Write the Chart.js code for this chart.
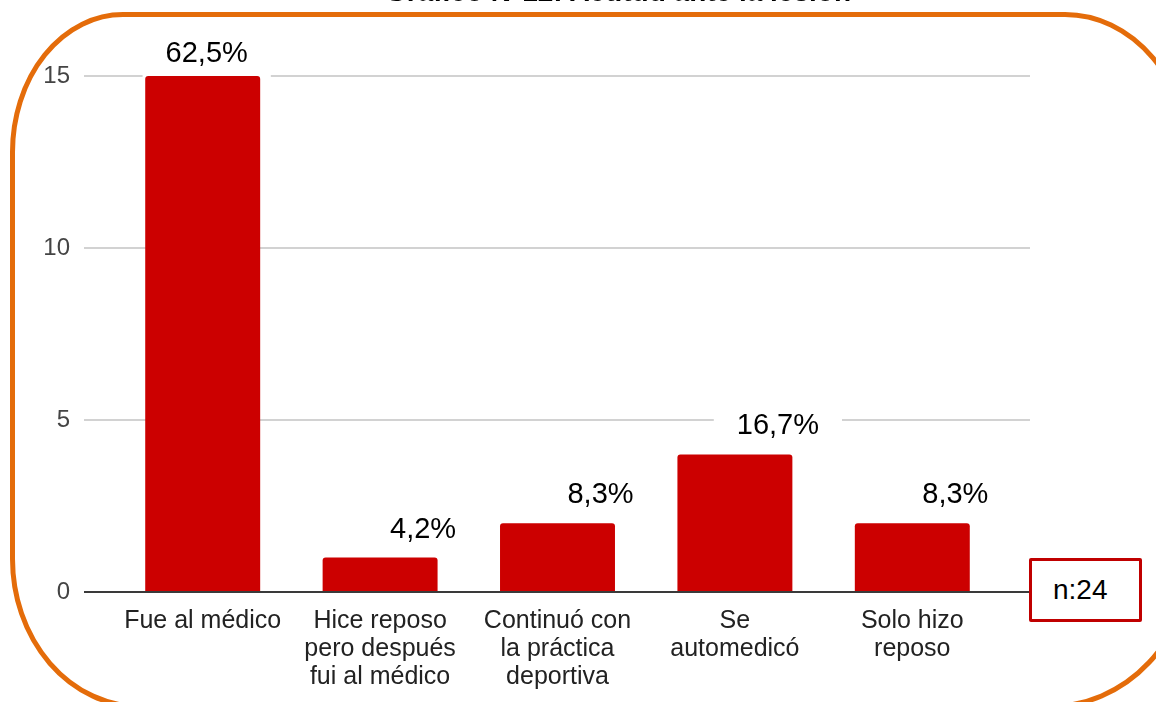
<!DOCTYPE html>
<html lang="es">
<head>
<meta charset="utf-8">
<title>Actitud ante la lesión</title>
<script src="https://cdn.jsdelivr.net/npm/chart.js@4"></script>
<style>
    html, body { margin: 0; padding: 0; background: #fff; overflow: hidden; }
    #wrap { position: relative; width: 1156px; height: 702px; overflow: hidden; font-family: "Liberation Sans", Arial, sans-serif; }
    #title {
        position: absolute; left: 0; top: -22px; width: 1236px; text-align: center;
        font-weight: bold; font-size: 28px; line-height: 28px; color: #000; white-space: nowrap;
    }
    #chart { position: absolute; left: 0; top: 0; }
    #nbox {
        position: absolute; left: 1029px; top: 558px; width: 113px; height: 64px;
        box-sizing: border-box; border: 3px solid #c00000; border-radius: 2px; background: #fff;
        font-size: 28px; line-height: 58px; padding-left: 21px; color: #000;
    }
</style>
</head>
<body>
<div id="wrap">
    <canvas id="chart" width="1156" height="702"></canvas>
    <div id="title">Gráfico N°12: Actitud ante la lesión</div>
    <div id="nbox">n:24</div>
</div>
<script>
// Respuestas por categoría
const categories = [
    ['Fue al médico'],
    ['Hice reposo', 'pero después', 'fui al médico'],
    ['Continuó con', 'la práctica', 'deportiva'],
    ['Se', 'automedicó'],
    ['Solo hizo', 'reposo']
];
const counts = [15, 1, 2, 4, 2];
const yTicks = [0, 5, 10, 15];

const total = counts.reduce((a, b) => a + b, 0);
const pctLabels = counts.map(v => (v / total * 100).toFixed(1).replace('.', ',') + '%');

const FONT = '"Liberation Sans", Arial, sans-serif';

// where each percentage label sits relative to its bar
function labelPos(bar, i) {
    return {
        x: bar.x + (i === 0 ? 4 : 43),
        y: Math.max(bar.y - 29, 53)
    };
}

// Orange rounded frame around the whole figure (runs off the right and bottom edges)
const frame = {
    id: 'frame',
    beforeDraw(chart) {
        const ctx = chart.ctx;
        const L = 12.5, T = 14.5, R = 1190, B = 706.5;
        const tl = [110.5, 137.5], tr = [125, 150], br = [140, 150], bl = [127.5, 147.5];
        ctx.save();
        ctx.strokeStyle = '#e46c0a';
        ctx.lineWidth = 5;
        ctx.beginPath();
        ctx.moveTo(L + tl[0], T);
        ctx.lineTo(R - tr[0], T);
        ctx.ellipse(R - tr[0], T + tr[1], tr[0], tr[1], 0, -Math.PI / 2, 0);
        ctx.lineTo(R, B - br[1]);
        ctx.ellipse(R - br[0], B - br[1], br[0], br[1], 0, 0, Math.PI / 2);
        ctx.lineTo(L + bl[0], B);
        ctx.ellipse(L + bl[0], B - bl[1], bl[0], bl[1], 0, Math.PI / 2, Math.PI);
        ctx.lineTo(L, T + tl[1]);
        ctx.ellipse(L + tl[0], T + tl[1], tl[0], tl[1], 0, Math.PI, Math.PI * 1.5);
        ctx.closePath();
        ctx.stroke();
        ctx.restore();
    }
};

// Horizontal guide lines (wider than the category band) and label plates
const guides = {
    id: 'guides',
    beforeDatasetsDraw(chart) {
        const ctx = chart.ctx;
        const y = chart.scales.y;
        ctx.save();
        ctx.strokeStyle = '#d2d2d2';
        ctx.lineWidth = 2;
        yTicks.forEach(t => {
            if (t === 0) return;
            const py = Math.round(y.getPixelForValue(t));
            ctx.beginPath();
            ctx.moveTo(84, py);
            ctx.lineTo(1030, py);
            ctx.stroke();
        });

        ctx.font = '29px ' + FONT;
        ctx.fillStyle = '#fff';
        chart.getDatasetMeta(0).data.forEach((bar, i) => {
            const p = labelPos(bar, i);
            const w = ctx.measureText(pctLabels[i]).width + 46;
            ctx.fillRect(p.x - w / 2, p.y - 18, w, 42);
        });
        ctx.restore();
    },
    afterDatasetsDraw(chart) {
        const ctx = chart.ctx;
        const y = chart.scales.y;
        const py = Math.round(y.getPixelForValue(0));
        ctx.save();
        ctx.strokeStyle = '#3a3a3a';
        ctx.lineWidth = 2;
        ctx.beginPath();
        ctx.moveTo(84, py);
        ctx.lineTo(1030, py);
        ctx.stroke();

        ctx.font = '29px ' + FONT;
        ctx.textAlign = 'center';
        ctx.textBaseline = 'middle';
        ctx.fillStyle = '#000';
        chart.getDatasetMeta(0).data.forEach((bar, i) => {
            const p = labelPos(bar, i);
            ctx.fillText(pctLabels[i], p.x, p.y + 1);
        });
        ctx.restore();
    }
};

new Chart(document.getElementById('chart'), {
    type: 'bar',
    data: {
        labels: categories,
        datasets: [{
            data: counts,
            backgroundColor: '#cc0000',
            barPercentage: 0.648,
            categoryPercentage: 1,
            borderRadius: { topLeft: 3, topRight: 3 },
            borderSkipped: 'bottom'
        }]
    },
    options: {
        responsive: false,
        animation: false,
        layout: { padding: { top: 76, right: 155, left: 0, bottom: 0 } },
        plugins: {
            legend: { display: false },
            tooltip: { enabled: false }
        },
        scales: {
            y: {
                min: 0,
                max: 15,
                afterBuildTicks: scale => { scale.ticks = yTicks.map(v => ({ value: v })); },
                afterFit: scale => { scale.width = 114; },
                grid: { display: false, drawTicks: false },
                border: { display: false },
                ticks: {
                    padding: 44,
                    color: '#444',
                    font: { family: FONT, size: 24 }
                }
            },
            x: {
                afterFit: scale => { scale.height = 110; },
                grid: { display: false, drawTicks: false },
                border: { display: false },
                ticks: {
                    padding: 15,
                    color: '#222',
                    maxRotation: 0,
                    autoSkip: false,
                    font: { family: FONT, size: 25, lineHeight: 1.12 }
                }
            }
        }
    },
    plugins: [frame, guides]
});
</script>
</body>
</html>
